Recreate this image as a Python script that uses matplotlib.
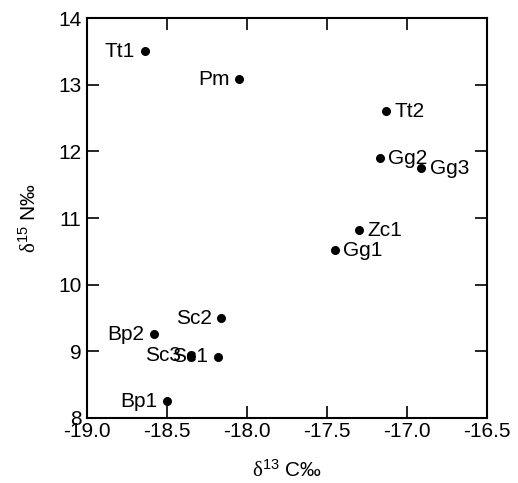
import matplotlib
matplotlib.use("Agg")
import matplotlib.pyplot as plt

plt.rcParams['font.family'] = ['Liberation Sans', 'DejaVu Sans']
plt.rcParams['mathtext.fontset'] = 'custom'
plt.rcParams['mathtext.rm'] = 'Liberation Serif'
plt.rcParams['mathtext.it'] = 'Liberation Serif:italic'
plt.rcParams['mathtext.sf'] = 'Liberation Sans'

labels = ["Tt1", "Pm", "Tt2", "Gg2", "Gg3", "Zc1", "Gg1", "Sc2", "Bp2", "Sc3", "Sc1", "Bp1"]
d13C = [-18.64, -18.05, -17.13, -17.17, -16.91, -17.30, -17.45, -18.16, -18.58, -18.35, -18.18, -18.50]
d15N = [13.50, 13.08, 12.60, 11.90, 11.75, 10.82, 10.52, 9.50, 9.26, 8.93, 8.92, 8.25]
label_side = ["left", "left", "right", "right", "right", "right", "right", "left", "left", "left", "left", "left"]

xticks = [-19.0, -18.5, -18.0, -17.5, -17.0, -16.5]
yticks = [8, 9, 10, 11, 12, 13, 14]

FS = 15

fig = plt.figure(figsize=(5.18, 4.83), dpi=100)
ax = fig.add_axes([0.168, 0.1346, 0.772, 0.828])

ax.scatter(d13C, d15N, s=30, color='black', zorder=3)
for lab, x, y, side in zip(labels, d13C, d15N, label_side):
    if side == "left":
        ax.annotate(lab, (x, y), xytext=(-7, 0), textcoords='offset points',
                    ha='right', va='center', fontsize=FS)
    else:
        ax.annotate(lab, (x, y), xytext=(6, 0), textcoords='offset points',
                    ha='left', va='center', fontsize=FS)

ax.set_xlim(-19.0, -16.5)
ax.set_ylim(8, 14)
ax.set_xticks(xticks)
ax.set_xticklabels([f"{v:.1f}" for v in xticks])
ax.set_yticks(yticks)
ax.set_yticklabels([str(v) for v in yticks])
ax.tick_params(direction='in', length=8.5, width=1.2, top=True, right=True,
               labelsize=FS, colors='black')
ax.tick_params(axis='x', pad=3)
ax.tick_params(axis='y', pad=4)
for sp in ax.spines.values():
    sp.set_linewidth(1.5)

ax.set_xlabel(r'$\mathrm{\delta}^{\mathsf{13}}$ C‰', fontsize=FS, labelpad=13)
ax.set_ylabel(r'$\mathrm{\delta}^{\mathsf{15}}$ N‰', fontsize=FS, labelpad=13)

fig.savefig("out.png", dpi=100)
